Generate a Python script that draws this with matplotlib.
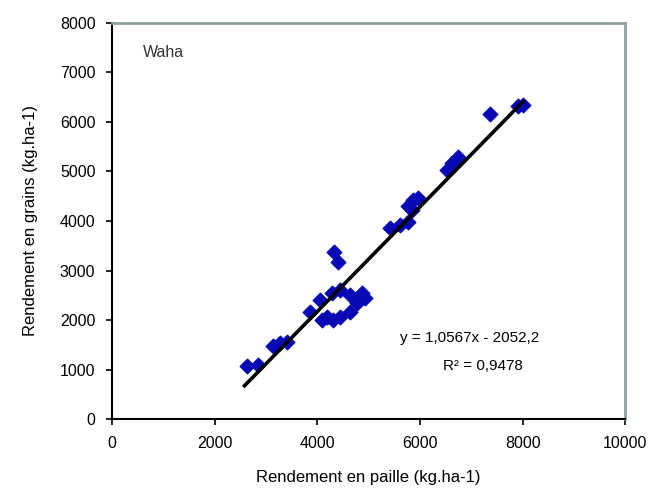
import matplotlib.pyplot as plt
import numpy as np

plt.rcParams['font.family'] = ['Liberation Sans', 'DejaVu Sans']

# straw yield (x) vs grain yield (y), kg/ha
paille = [2630, 2850, 3140, 3270, 3410,
          3860, 4050, 4290, 4440, 4640, 4870, 4930, 4780, 4640, 4440, 4190, 4090, 4310,
          4330, 4410,
          5420, 5610, 5770, 5770, 5870, 5960, 5850,
          6530, 6630, 6740,
          7370, 7910, 8010]
grains = [1070, 1090, 1470, 1540, 1560,
          2160, 2400, 2550, 2610, 2500, 2550, 2440, 2340, 2160, 2060, 2060, 2000, 2000,
          3370, 3170,
          3860, 3920, 3980, 4300, 4420, 4460, 4220,
          5030, 5170, 5290,
          6160, 6320, 6340]

pente = 1.0567
origine = -2052.2
r2 = 0.9478

fig = plt.figure(figsize=(6.48, 4.96), dpi=100)
ax = fig.add_axes([0.173, 0.155, 0.792, 0.799])

ax.scatter(paille, grains, marker='D', s=55, color='#0808b4', zorder=3)

xl = np.array([min(paille) - 50, max(paille)])
ax.plot(xl, pente * xl + origine, color='black', lw=2.6, zorder=4)

ax.set_xlim(0, 10000)
ax.set_ylim(0, 8000)
ax.set_xticks(np.arange(0, 10001, 2000))
ax.set_yticks(np.arange(0, 8001, 1000))
ax.tick_params(direction='out', length=4, width=1.2, labelsize=11.5, pad=8)

for s in ['left', 'bottom']:
    ax.spines[s].set_color('black')
    ax.spines[s].set_linewidth(1.5)
for s in ['top', 'right']:
    ax.spines[s].set_color('#8fa0a0')
    ax.spines[s].set_linewidth(2)

ax.set_xlabel('Rendement en paille (kg.ha-1)', fontsize=12, labelpad=14)
ax.set_ylabel('Rendement en grains (kg.ha-1)', fontsize=12, labelpad=16)

ax.text(600, 7300, 'Waha', fontsize=11.5, color='#333333')
ax.text(5600, 1550, 'y = 1,0567x - 2052,2', fontsize=11)
ax.text(6450, 1000, 'R² = 0,9478', fontsize=11)

fig.savefig('out.png', dpi=100)
